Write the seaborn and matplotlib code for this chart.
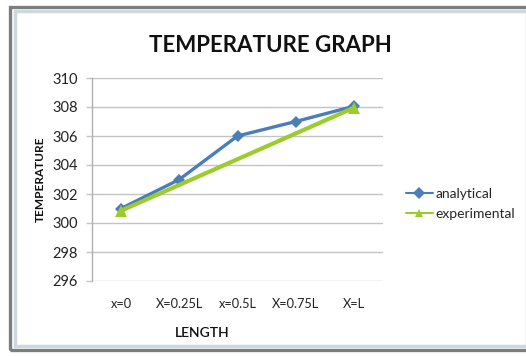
import numpy as np
import pandas as pd
import matplotlib
matplotlib.use("Agg")
import matplotlib.pyplot as plt
from matplotlib.patches import Rectangle
import seaborn as sns

categories = ["x=0", "X=0.25L", "x=0.5L", "X=0.75L", "X=L"]
analytical = [301.0, 303.0, 306.0, 307.0, 308.05]
experimental = [300.85, np.nan, np.nan, np.nan, 307.95]
y_ticks = [296, 298, 300, 302, 304, 306, 308, 310]

rows = []
for c, v in zip(categories, analytical):
    rows.append({"length": c, "temp": v, "series": "analytical"})
for c, v in zip(categories, experimental):
    if not np.isnan(v):
        rows.append({"length": c, "temp": v, "series": "experimental"})
df = pd.DataFrame(rows)

sns.set_theme(style="white")
plt.rcParams["font.family"] = ["Lato", "DejaVu Sans"]

W, H = 526, 356
fig = plt.figure(figsize=(W / 100, H / 100), dpi=100)
fig.patch.set_facecolor("white")

# window-like frame
fig.patches.append(Rectangle((10 / W, 1 - 350 / H), 520 / W, 343 / H,
                             transform=fig.transFigure, fill=False,
                             edgecolor="#7d7d7d", linewidth=2.4, zorder=0))
fig.patches.append(Rectangle((14.5 / W, 1 - 346 / H), 512 / W, 335 / H,
                             transform=fig.transFigure, fill=False,
                             edgecolor="#cdd8de", linewidth=2.5, zorder=0))

ax = fig.add_axes([92 / W, 1 - 281 / H, 291 / W, 203 / H])

palette = {"analytical": "#4a7ebb", "experimental": "#9ccc2c"}
sns.lineplot(data=df, x="length", y="temp", hue="series", style="series",
             markers={"analytical": "D", "experimental": "^"},
             dashes=False, palette=palette, ax=ax, sort=False,
             markersize=6, markeredgewidth=0)
for line, lw in zip(ax.get_lines(), [2.4, 3.0]):
    line.set_linewidth(lw)
ax.get_lines()[1].set_markersize(8)

ax.set_xlim(-0.5, len(categories) - 0.5)
ax.set_ylim(296, 310)
ax.set_yticks(y_ticks)
ax.set_yticklabels([str(t) for t in y_ticks], fontsize=10.5, color="#222222")
ax.set_xticks(range(len(categories)))
ax.set_xticklabels(categories, fontsize=9.2, color="#222222")
ax.grid(axis="y", color="#c4c4c4", linewidth=1)
ax.grid(axis="x", visible=False)
for s in ["top", "right", "bottom"]:
    ax.spines[s].set_visible(False)
ax.spines["left"].set_color("#b0b0b0")
ax.spines["left"].set_linewidth(1)
ax.tick_params(axis="y", length=4, color="#c4c4c4", width=1, pad=6, left=True)
ax.tick_params(axis="x", length=0, pad=12)

ax.set_xlabel("LENGTH", fontsize=10, fontweight="semibold", color="#111111")
ax.xaxis.set_label_coords(0.38, -0.225)
ax.set_ylabel("TEMPERATURE", fontsize=8.5, fontweight="bold", color="#111111")
ax.yaxis.set_label_coords(-0.16, 0.5)

fig.text(270 / W, 1 - 46 / H, "TEMPERATURE GRAPH", ha="center", va="center",
         fontsize=16, fontweight="bold", color="#111111")

handles, labels = ax.get_legend_handles_labels()
ax.legend(handles, labels, loc="center left",
          bbox_to_anchor=(400 / W, 1 - 204 / H), bbox_transform=fig.transFigure,
          frameon=False, fontsize=10, handlelength=2.0, handletextpad=0.15,
          labelspacing=0.55, borderaxespad=0)

fig.savefig("out.png", dpi=100)
